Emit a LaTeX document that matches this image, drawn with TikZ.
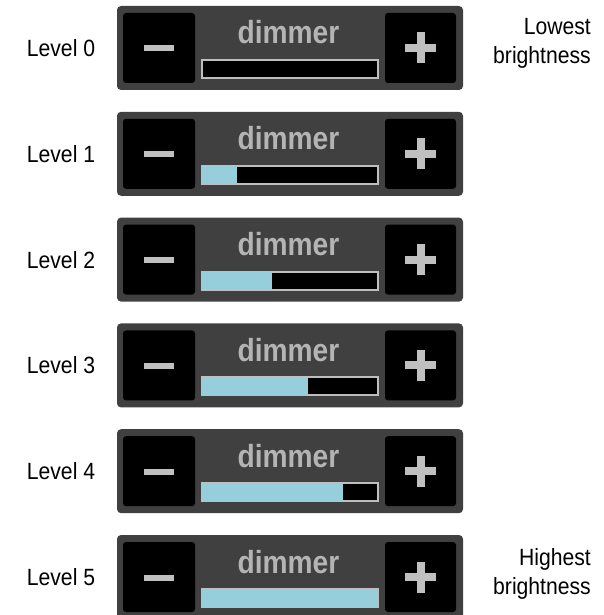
\documentclass[tikz,border=0pt]{standalone}
\usepackage{fontspec}
\newfontfamily\labfont{Liberation Sans}[FakeStretch=0.9]
\newfontfamily\dimfont{Liberation Sans Bold}[FakeStretch=0.88]
\definecolor{panelgrey}{HTML}{404040}
\definecolor{signgrey}{HTML}{C0C0C0}
\definecolor{textgrey}{HTML}{B4B4B4}
\definecolor{barborder}{HTML}{BEBEBE}
\definecolor{barblue}{HTML}{96CEDC}
\tikzset{
  panel/.style={rectangle, fill=panelgrey, rounded corners=4pt, inner sep=0pt, minimum width=346pt, minimum height=84pt},
  btn/.style={rectangle, fill=black, rounded corners=3pt, inner sep=0pt, minimum height=70pt},
  barbox/.style={rectangle, fill=black, draw=barborder, line width=2pt, inner sep=0pt, minimum width=176pt, minimum height=18pt},
  sign/.style={fill=signgrey},
  dimtext/.style={text=textgrey, font=\dimfont\fontsize{32}{36}\selectfont, anchor=base, inner sep=0pt},
  levtext/.style={font=\labfont\fontsize{23.5}{29}\selectfont, anchor=base, inner sep=0pt},
  sidetext/.style={font=\labfont\fontsize{23.5}{29}\selectfont, anchor=base east, inner sep=0pt}
}
\begin{document}
\begin{tikzpicture}[x=1pt,y=-1pt]
\useasboundingbox (0,0) rectangle (603,615);
\clip (0,0) rectangle (603,615);
\foreach \i in {0,...,5}{
  \pgfmathsetmacro{\top}{6+105.8*\i}
  \node[panel] (p\i) at (290,\top+42) {};
  \node[btn, minimum width=72pt] (minus\i) at (159,\top+42) {};
  \node[btn, minimum width=71pt] (plus\i) at (420.5,\top+42) {};
  \fill[sign] (144,\top+39.5) rectangle (174,\top+45.5);
  \fill[sign] (405,\top+38) rectangle (436,\top+46);
  \fill[sign] (416.5,\top+26.5) rectangle (424.5,\top+57.5);
  \node[dimtext] (d\i) at (288.5,\top+38) {dimmer};
  \node[barbox] (bar\i) at (290,\top+63) {};
  \ifnum\i>0
    \fill[barblue] (202,\top+54) rectangle ({202+35.2*\i},\top+72);
  \fi
  \node[levtext] (lev\i) at (61,\top+50.5) {Level \i};
}
\node[sidetext] (lo1) at (591,35) {Lowest};
\node[sidetext] (lo2) at (591,64) {brightness};
\node[sidetext] (hi1) at (591,565) {Highest};
\node[sidetext] (hi2) at (591,594) {brightness};
\end{tikzpicture}
\end{document}
